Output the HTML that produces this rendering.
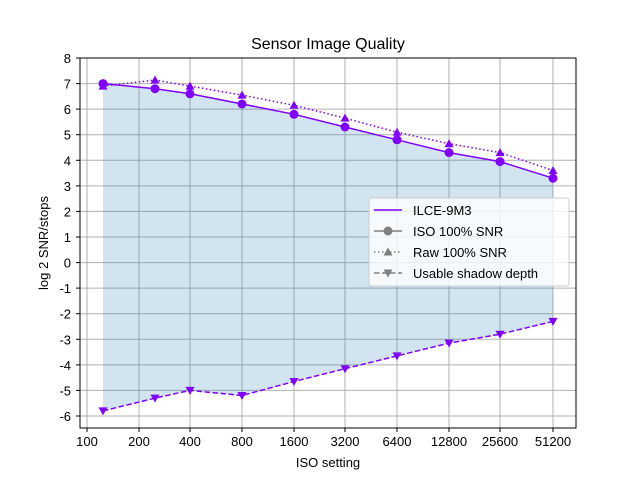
<!DOCTYPE html>
<html><head><meta charset="utf-8"><style>body{margin:0;background:#fff}svg{display:block}text{font-family:"Liberation Sans","DejaVu Sans",sans-serif;font-size:13px;fill:#000}</style></head>
<body>
<svg width="640" height="480" viewBox="0 0 640 480">
<rect width="640" height="480" fill="#fff"/>
<g stroke="#b0b0b0" stroke-width="1">
<line x1="87" y1="58" x2="87" y2="428"/><line x1="139" y1="58" x2="139" y2="428"/><line x1="190" y1="58" x2="190" y2="428"/><line x1="242" y1="58" x2="242" y2="428"/><line x1="294" y1="58" x2="294" y2="428"/><line x1="345" y1="58" x2="345" y2="428"/><line x1="397" y1="58" x2="397" y2="428"/><line x1="449" y1="58" x2="449" y2="428"/><line x1="500" y1="58" x2="500" y2="428"/><line x1="553" y1="58" x2="553" y2="428"/>
<line x1="80" y1="58" x2="576" y2="58"/><line x1="80" y1="83.6" x2="576" y2="83.6"/><line x1="80" y1="109.1" x2="576" y2="109.1"/><line x1="80" y1="134.7" x2="576" y2="134.7"/><line x1="80" y1="160.3" x2="576" y2="160.3"/><line x1="80" y1="185.9" x2="576" y2="185.9"/><line x1="80" y1="211.4" x2="576" y2="211.4"/><line x1="80" y1="237" x2="576" y2="237"/><line x1="80" y1="262.6" x2="576" y2="262.6"/><line x1="80" y1="288.1" x2="576" y2="288.1"/><line x1="80" y1="313.7" x2="576" y2="313.7"/><line x1="80" y1="339.3" x2="576" y2="339.3"/><line x1="80" y1="364.9" x2="576" y2="364.9"/><line x1="80" y1="390.4" x2="576" y2="390.4"/><line x1="80" y1="416" x2="576" y2="416"/>
</g>
<polygon fill="#1f77b4" fill-opacity="0.2" points="103,83.6 155,88.7 190,93.8 242,104 294,114.3 345,127 397,139.8 449,152.6 500,161.6 553,178.2 553,321.4 500,334.2 449,343.1 397,355.9 345,368.7 294,381.5 242,395.5 190,390.4 155,398.1 103,410.9"/>
<g fill="none" stroke="#7f00ff" stroke-width="1.5">
<polyline points="103,83.6 155,88.7 190,93.8 242,104 294,114.3 345,127 397,139.8 449,152.6 500,161.6 553,178.2"/>
<polyline stroke-dasharray="1.5,2.5" points="103,86.1 155,80 190,86.1 242,95.1 294,105.3 345,118.1 397,132.2 449,143.7 500,152.6 553,170.5"/>
<polyline stroke-dasharray="5.5,2.5" points="103,410.9 155,398.1 190,390.4 242,395.5 294,381.5 345,368.7 397,355.9 449,343.1 500,334.2 553,321.4"/>
</g>
<g fill="#7f00ff">
<circle cx="103" cy="83.6" r="4.5"/><circle cx="155" cy="88.7" r="4.5"/><circle cx="190" cy="93.8" r="4.5"/><circle cx="242" cy="104" r="4.5"/><circle cx="294" cy="114.3" r="4.5"/><circle cx="345" cy="127" r="4.5"/><circle cx="397" cy="139.8" r="4.5"/><circle cx="449" cy="152.6" r="4.5"/><circle cx="500" cy="161.6" r="4.5"/><circle cx="553" cy="178.2" r="4.5"/>
</g>
<g fill="#7f00ff">
<path d="M103,81.6 l4.5,8 h-9z"/><path d="M155,75.5 l4.5,8 h-9z"/><path d="M190,81.6 l4.5,8 h-9z"/><path d="M242,90.6 l4.5,8 h-9z"/><path d="M294,100.8 l4.5,8 h-9z"/><path d="M345,113.6 l4.5,8 h-9z"/><path d="M397,127.7 l4.5,8 h-9z"/><path d="M449,139.2 l4.5,8 h-9z"/><path d="M500,148.1 l4.5,8 h-9z"/><path d="M553,166 l4.5,8 h-9z"/>
<path d="M103,415.4 l4.5,-8 h-9z"/><path d="M155,402.6 l4.5,-8 h-9z"/><path d="M190,394.9 l4.5,-8 h-9z"/><path d="M242,400 l4.5,-8 h-9z"/><path d="M294,386 l4.5,-8 h-9z"/><path d="M345,373.2 l4.5,-8 h-9z"/><path d="M397,360.4 l4.5,-8 h-9z"/><path d="M449,347.6 l4.5,-8 h-9z"/><path d="M500,338.7 l4.5,-8 h-9z"/><path d="M553,325.9 l4.5,-8 h-9z"/>
</g>
<rect x="80" y="58" width="496" height="370" fill="none" stroke="#000" stroke-width="1"/>
<g stroke="#000"><line x1="87" y1="428" x2="87" y2="432"/><line x1="139" y1="428" x2="139" y2="432"/><line x1="190" y1="428" x2="190" y2="432"/><line x1="242" y1="428" x2="242" y2="432"/><line x1="294" y1="428" x2="294" y2="432"/><line x1="345" y1="428" x2="345" y2="432"/><line x1="397" y1="428" x2="397" y2="432"/><line x1="449" y1="428" x2="449" y2="432"/><line x1="500" y1="428" x2="500" y2="432"/><line x1="553" y1="428" x2="553" y2="432"/></g>
<g text-anchor="middle"><text x="87" y="446">100</text><text x="139" y="446">200</text><text x="190" y="446">400</text><text x="242" y="446">800</text><text x="294" y="446">1600</text><text x="345" y="446">3200</text><text x="397" y="446">6400</text><text x="449" y="446">12800</text><text x="500" y="446">25600</text><text x="553" y="446">51200</text>
<text x="328" y="467">ISO setting</text><text x="328" y="49" style="font-size:16px">Sensor Image Quality</text></g>
<g text-anchor="end"><text x="71" y="63">8</text><text x="71" y="88.6">7</text><text x="71" y="114.1">6</text><text x="71" y="139.7">5</text><text x="71" y="165.3">4</text><text x="71" y="190.9">3</text><text x="71" y="216.4">2</text><text x="71" y="242">1</text><text x="71" y="267.6">0</text><text x="71" y="293.1">-1</text><text x="71" y="318.7">-2</text><text x="71" y="344.3">-3</text><text x="71" y="369.9">-4</text><text x="71" y="395.4">-5</text><text x="71" y="421">-6</text></g>
<g stroke="#000"><line x1="76" y1="58" x2="80" y2="58"/><line x1="76" y1="83.6" x2="80" y2="83.6"/><line x1="76" y1="109.1" x2="80" y2="109.1"/><line x1="76" y1="134.7" x2="80" y2="134.7"/><line x1="76" y1="160.3" x2="80" y2="160.3"/><line x1="76" y1="185.9" x2="80" y2="185.9"/><line x1="76" y1="211.4" x2="80" y2="211.4"/><line x1="76" y1="237" x2="80" y2="237"/><line x1="76" y1="262.6" x2="80" y2="262.6"/><line x1="76" y1="288.1" x2="80" y2="288.1"/><line x1="76" y1="313.7" x2="80" y2="313.7"/><line x1="76" y1="339.3" x2="80" y2="339.3"/><line x1="76" y1="364.9" x2="80" y2="364.9"/><line x1="76" y1="390.4" x2="80" y2="390.4"/><line x1="76" y1="416" x2="80" y2="416"/></g>
<text transform="translate(48,243) rotate(-90)" text-anchor="middle">log 2 SNR/stops</text>
<rect x="369" y="198" width="200" height="88" rx="3" fill="#fff" fill-opacity="0.8" stroke="#ccc"/>
<line x1="374" y1="210" x2="402" y2="210" stroke="#7f00ff" stroke-width="1.5"/>
<line x1="374" y1="231" x2="402" y2="231" stroke="#808080" stroke-width="1.5"/><circle cx="388" cy="231" r="4.5" fill="#808080"/>
<line x1="374" y1="252" x2="402" y2="252" stroke="#808080" stroke-width="1.5" stroke-dasharray="1.5,2.5"/><path d="M388,247.5 l4.5,8 h-9z" fill="#808080"/>
<line x1="374" y1="273" x2="402" y2="273" stroke="#808080" stroke-width="1.5" stroke-dasharray="5.5,2.5"/><path d="M388,277.5 l4.5,-8 h-9z" fill="#808080"/>
<text x="413" y="215">ILCE-9M3</text><text x="413" y="236">ISO 100% SNR</text><text x="413" y="257">Raw 100% SNR</text><text x="413" y="278">Usable shadow depth</text>
</svg>
</body></html>
